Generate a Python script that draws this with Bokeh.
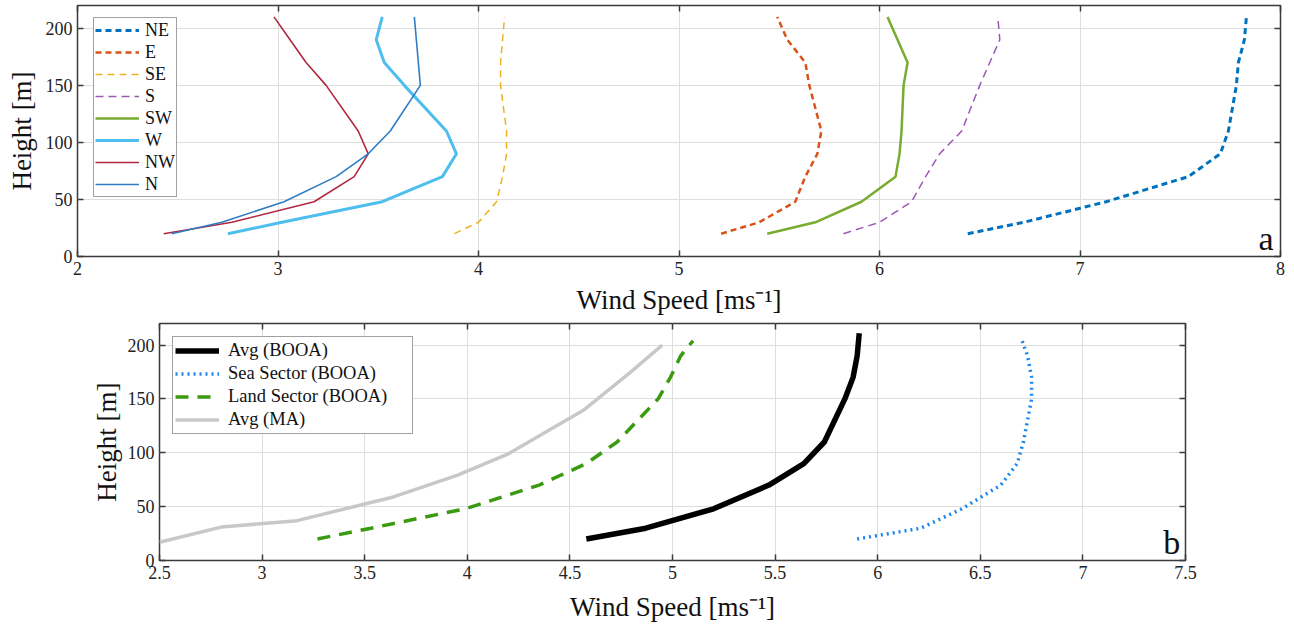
from bokeh.plotting import figure
from bokeh.models import (Range1d, FixedTicker, LinearAxis, Legend, LegendItem,
                          Label, NumeralTickFormatter, CustomJSTickFormatter)
from bokeh.embed import file_html
from bokeh.resources import INLINE

FONT = "Liberation Serif"

# ---------------- panel a data ----------------
heights_a = [20, 30, 48, 70, 90, 110, 150, 170, 190, 210]
ne = [6.44, 6.72, 7.13, 7.54, 7.70, 7.74, 7.78, 7.79, 7.82, 7.83]
e = [5.21, 5.40, 5.58, 5.63, 5.69, 5.71, 5.65, 5.63, 5.54, 5.49]
se = [3.88, 4.00, 4.09, 4.12, 4.14, 4.14, 4.11, 4.11, 4.12, 4.13]
s = [5.82, 6.00, 6.16, 6.23, 6.30, 6.41, 6.50, 6.55, 6.60, 6.59]
sw = [5.44, 5.68, 5.91, 6.08, 6.10, 6.11, 6.12, 6.14, 6.09, 6.04]
w = [2.75, 3.02, 3.52, 3.82, 3.89, 3.84, 3.63, 3.53, 3.49, 3.52]
nw = [2.43, 2.77, 3.18, 3.38, 3.45, 3.40, 3.24, 3.14, 3.06, 2.98]
n = [2.47, 2.72, 3.03, 3.29, 3.45, 3.56, 3.71, 3.70, 3.69, 3.68]
sector_names = ["NE", "E", "SE", "S", "SW", "W", "NW", "N"]
xticks_a = [2, 3, 4, 5, 6, 7, 8]
yticks = [0, 50, 100, 150, 200]

# ---------------- panel b data ----------------
heights_avg = [20, 30, 48, 70, 90, 110, 150, 170, 190, 211]
avg_booa = [4.58, 4.87, 5.20, 5.47, 5.64, 5.74, 5.84, 5.88, 5.90, 5.91]
heights_sea = [20, 30, 48, 70, 90, 110, 150, 170, 190, 206]
sea_booa = [5.90, 6.21, 6.41, 6.60, 6.68, 6.71, 6.75, 6.75, 6.73, 6.70]
heights_land = [20, 30, 48, 70, 90, 110, 150, 170, 190, 204]
land_booa = [3.27, 3.53, 3.99, 4.35, 4.58, 4.73, 4.93, 4.99, 5.04, 5.10]
heights_ma = [17, 31, 37, 59, 79, 99, 140, 174, 200]
avg_ma = [2.50, 2.80, 3.17, 3.64, 3.95, 4.20, 4.57, 4.79, 4.95]
series_b = ["Avg (BOOA)", "Sea Sector (BOOA)", "Land Sector (BOOA)", "Avg (MA)"]
xticks_b = [2.5, 3, 3.5, 4, 4.5, 5, 5.5, 6, 6.5, 7, 7.5]

XLABEL = "Wind Speed [ms\u207b\u00b9]"


def style(p, xticks, xstand, ystand):
    p.outline_line_color = "#3a3a3a"
    p.outline_line_width = 1.5
    p.below[0].axis_label = XLABEL
    p.left[0].axis_label = "Height [m]"
    for ax in (p.below[0], p.left[0]):
        ax.axis_line_color = None
        ax.major_tick_in = 6
        ax.major_tick_out = 0
        ax.minor_tick_line_color = None
        ax.major_tick_line_color = "#3a3a3a"
        ax.major_tick_line_width = 1.5
        ax.major_label_text_font = FONT
        ax.major_label_text_font_size = "18px"
        ax.major_label_text_color = "#222222"
        ax.axis_label_text_font = FONT
        ax.axis_label_text_font_style = "normal"
        ax.axis_label_text_color = "#111111"
        ax.axis_label_text_font_size = "27px"
        ax.major_label_standoff = 5
    p.below[0].axis_label_standoff = xstand
    p.left[0].axis_label_standoff = ystand
    p.below[0].ticker = FixedTicker(ticks=xticks)
    p.left[0].ticker = FixedTicker(ticks=yticks)
    p.below[0].formatter = NumeralTickFormatter(format="0.[0]")
    p.xgrid.ticker = FixedTicker(ticks=xticks)
    p.ygrid.ticker = FixedTicker(ticks=yticks)
    for g in (p.xgrid, p.ygrid):
        g.grid_line_color = "#dedede"
        g.grid_line_width = 1
    blank = CustomJSTickFormatter(code="return ''")
    top = LinearAxis(ticker=FixedTicker(ticks=xticks), formatter=blank,
                     axis_line_color=None, major_tick_in=6, major_tick_out=0,
                     major_tick_line_color="#3a3a3a", major_tick_line_width=1.5,
                     minor_tick_line_color=None, major_label_standoff=0,
                     major_label_text_font_size="0px")
    right = LinearAxis(ticker=FixedTicker(ticks=yticks), formatter=blank,
                       axis_line_color=None, major_tick_in=6, major_tick_out=0,
                       major_tick_line_color="#3a3a3a", major_tick_line_width=1.5,
                       minor_tick_line_color=None, major_label_standoff=0,
                       major_label_text_font_size="0px")
    p.add_layout(top, "above")
    p.add_layout(right, "right")


# ---------------- figure a ----------------
p1 = figure(width=1290, height=317, output_backend="svg", toolbar_location=None,
            x_range=Range1d(2, 8), y_range=Range1d(0, 220),
            min_border_left=77, min_border_right=10, min_border_top=5,
            min_border_bottom=61, background_fill_color="white",
            border_fill_color="white")
style(p1, xticks_a, 7, 6)

specs_a = [
    (ne, "#0072BD", 3.0, "6 4"),
    (e, "#D95319", 2.5, "6 4"),
    (se, "#EDB120", 1.5, "7 5"),
    (s, "#9B59B6", 1.5, "8 5"),
    (sw, "#77AC30", 2.5, None),
    (w, "#4DBEEE", 3.0, None),
    (nw, "#B0283F", 1.6, None),
    (n, "#2F7CC2", 1.6, None),
]
items_a = []
for name, (vals, col, lw, dash) in zip(sector_names, specs_a):
    kw = dict(line_color=col, line_width=lw)
    if dash:
        kw["line_dash"] = dash
    r = p1.line(vals, heights_a, **kw)
    items_a.append(LegendItem(label=name, renderers=[r]))

leg_a = Legend(items=items_a, location=(16, 59), margin=0,
               label_text_font=FONT, label_text_font_size="18px",
               label_text_color="#111111", glyph_width=44, glyph_height=22,
               label_height=22, spacing=0, padding=1, label_standoff=6,
               border_line_color="#444444", border_line_width=1.3,
               background_fill_color="white", background_fill_alpha=1)
p1.add_layout(leg_a)
p1.add_layout(Label(x=7.965, y=0, text="a", text_align="right",
                    text_baseline="bottom", text_font=FONT,
                    text_font_size="34px", text_color="#111111"))

# ---------------- figure b ----------------
p2 = figure(width=1290, height=307, output_backend="svg", toolbar_location=None,
            x_range=Range1d(2.5, 7.5), y_range=Range1d(0, 220),
            min_border_left=159, min_border_right=105, min_border_top=6,
            min_border_bottom=64, background_fill_color="white",
            border_fill_color="white")
style(p2, xticks_b, 10, 3)

r_avg = p2.line(avg_booa, heights_avg, line_color="#000000", line_width=5.5)
r_sea = p2.line(sea_booa, heights_sea, line_color="#1A86F0", line_width=3.5,
                line_dash="2 4")
r_land = p2.line(land_booa, heights_land, line_color="#3A9A10", line_width=3.5,
                 line_dash="13 9")
r_ma = p2.line(avg_ma, heights_ma, line_color="#C8C8C8", line_width=3.5)

items_b = [LegendItem(label=lbl, renderers=[r]) for lbl, r in
           zip(series_b, [r_avg, r_sea, r_land, r_ma])]
leg_b = Legend(items=items_b, location=(13, 126), margin=0,
               label_text_font=FONT, label_text_font_size="18.5px",
               label_text_color="#111111", glyph_width=44, glyph_height=23,
               label_height=23, label_width=182, spacing=0, padding=2,
               label_standoff=9,
               border_line_color="#444444", border_line_width=1.3,
               background_fill_color="white", background_fill_alpha=1)
p2.add_layout(leg_b)
p2.add_layout(Label(x=7.475, y=0, text="b", text_align="right",
                    text_baseline="bottom", text_font=FONT,
                    text_font_size="34px", text_color="#111111"))

open("out.html", "w").write(file_html([p1, p2], INLINE))
